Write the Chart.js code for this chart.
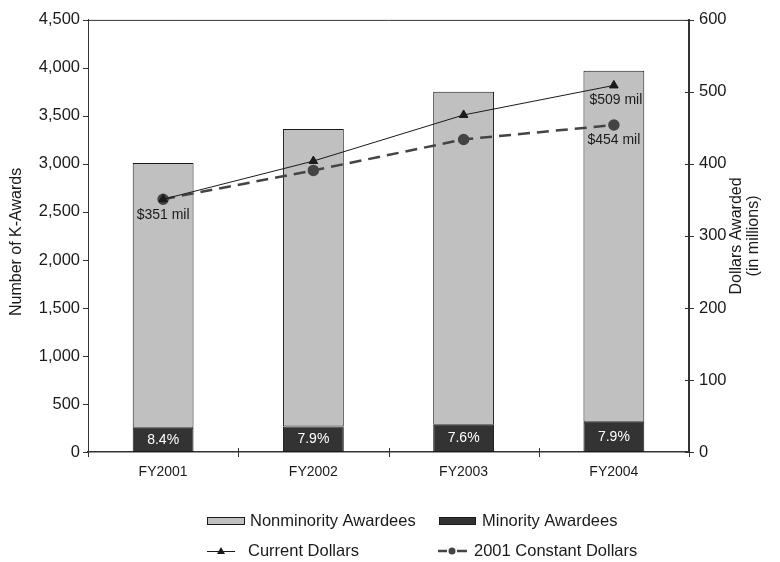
<!DOCTYPE html>
<html>
<head>
<meta charset="utf-8">
<script src="https://cdn.jsdelivr.net/npm/chart.js@4/dist/chart.umd.min.js"></script>
<style>
  html, body { margin: 0; padding: 0; background: #fff; }
  #wrap { width: 780px; height: 562px; position: relative; }
</style>
</head>
<body>
<div id="wrap"><canvas id="c" width="780" height="562"></canvas></div>
<script>
// K-Award counts and funding, FY2001-FY2004
const years = ['FY2001', 'FY2002', 'FY2003', 'FY2004'];
const nonminorityAwardees = [2757, 3099, 3467, 3656];
const minorityAwardees = [253, 266, 285, 314];
const minorityShare = ['8.4%', '7.9%', '7.6%', '7.9%'];
const currentDollars = [351, 404, 468, 509];
const constantDollars = [351, 391, 434, 454];
const awardTicks = [0, 500, 1000, 1500, 2000, 2500, 3000, 3500, 4000, 4500];
const dollarTicks = [0, 100, 200, 300, 400, 500, 600];

const FONT = '"Liberation Sans", Arial, Helvetica, sans-serif';
const INK = '#1a1a1a';
const AXIS = '#333333';
const LIGHT = '#c0c0c0';
const DARK = '#333333';
const DASHED = '#444444';

// Frame line, crossing tick marks, axis titles, value labels and legend
const decorations = {
  id: 'decorations',
  afterDraw(chart) {
    const ctx = chart.ctx;
    const a = chart.chartArea;
    const ys = chart.scales.y, y1 = chart.scales.y1;
    ctx.save();

    // top frame line
    ctx.strokeStyle = AXIS;
    ctx.lineWidth = 1;
    ctx.beginPath();
    ctx.moveTo(a.left, a.top + 0.5);
    ctx.lineTo(a.right, a.top + 0.5);
    ctx.stroke();

    // left axis tick marks (outside)
    ctx.beginPath();
    awardTicks.forEach(v => {
      const y = Math.round(ys.getPixelForValue(v)) + 0.5;
      ctx.moveTo(a.left - 5, y); ctx.lineTo(a.left, y);
    });
    // right axis tick marks (crossing)
    dollarTicks.forEach(v => {
      const y = Math.round(y1.getPixelForValue(v)) + 0.5;
      ctx.moveTo(a.right - 4, y); ctx.lineTo(a.right + 5, y);
    });
    // category boundary ticks on x axis (crossing)
    const step = (a.right - a.left) / years.length;
    for (let i = 0; i <= years.length; i++) {
      const x = Math.round(a.left + i * step) + 0.5;
      ctx.moveTo(x, a.bottom - 4); ctx.lineTo(x, a.bottom + 5);
    }
    ctx.stroke();

    // axis titles
    ctx.fillStyle = INK;
    ctx.font = '16px ' + FONT;
    ctx.textAlign = 'center';
    ctx.textBaseline = 'middle';
    ctx.save();
    ctx.translate(17, (a.top + a.bottom) / 2 + 6);
    ctx.rotate(-Math.PI / 2);
    ctx.fillText('Number of K-Awards', 0, 0);
    ctx.restore();
    ctx.save();
    ctx.translate(745, (a.top + a.bottom) / 2);
    ctx.rotate(-Math.PI / 2);
    ctx.fillText('Dollars Awarded', 0, -8);
    ctx.fillText('(in millions)', 0, 9);
    ctx.restore();

    // minority share inside the dark bars
    const barMeta = chart.getDatasetMeta(2);
    ctx.fillStyle = '#ffffff';
    ctx.font = '14px ' + FONT;
    barMeta.data.forEach((bar, i) => {
      ctx.fillText(minorityShare[i], bar.x, (bar.y + bar.base) / 2);
    });

    // dollar labels under selected points
    ctx.fillStyle = INK;
    const curMeta = chart.getDatasetMeta(0);
    const conMeta = chart.getDatasetMeta(1);
    const money = v => '$' + v + ' mil';
    const p0 = curMeta.data[0];
    ctx.fillText(money(currentDollars[0]), p0.x, p0.y + 16);
    const p3 = curMeta.data[3];
    ctx.fillText(money(currentDollars[3]), p3.x + 2, p3.y + 15);
    const q3 = conMeta.data[3];
    ctx.fillText(money(constantDollars[3]), q3.x, q3.y + 15);

    // legend
    ctx.font = '16.5px ' + FONT;
    ctx.textAlign = 'left';
    ctx.textBaseline = 'middle';
    const r1 = 521, r2 = 551;
    ctx.lineWidth = 1;
    ctx.strokeStyle = INK;
    ctx.fillStyle = LIGHT;
    ctx.fillRect(207.5, r1 - 3.5, 37, 7);
    ctx.strokeRect(207.5, r1 - 3.5, 37, 7);
    ctx.fillStyle = DARK;
    ctx.fillRect(439.5, r1 - 3.5, 36, 7);
    ctx.strokeRect(439.5, r1 - 3.5, 36, 7);
    ctx.fillStyle = INK;
    ctx.fillText('Nonminority Awardees', 250, r1);
    ctx.fillText('Minority Awardees', 482, r1);

    // current dollars sample
    ctx.strokeStyle = INK;
    ctx.lineWidth = 1;
    ctx.beginPath();
    ctx.moveTo(207, r2 + 0.5); ctx.lineTo(235, r2 + 0.5);
    ctx.stroke();
    ctx.beginPath();
    ctx.moveTo(221, r2 - 4); ctx.lineTo(225, r2 + 3); ctx.lineTo(217, r2 + 3);
    ctx.closePath();
    ctx.fill();
    ctx.fillText('Current Dollars', 248, r2);

    // constant dollars sample
    ctx.strokeStyle = DASHED;
    ctx.fillStyle = DASHED;
    ctx.lineWidth = 2.5;
    ctx.beginPath();
    ctx.moveTo(438, r2); ctx.lineTo(447, r2);
    ctx.moveTo(457, r2); ctx.lineTo(467, r2);
    ctx.stroke();
    ctx.beginPath();
    ctx.arc(452, r2, 3.5, 0, Math.PI * 2);
    ctx.fill();
    ctx.fillStyle = INK;
    ctx.fillText('2001 Constant Dollars', 474, r2);

    ctx.restore();
  }
};

new Chart(document.getElementById('c'), {
  data: {
    labels: years,
    datasets: [
      {
        type: 'line', label: 'Current Dollars', data: currentDollars, yAxisID: 'y1',
        borderColor: INK, borderWidth: 1, pointStyle: 'triangle', pointRadius: 5,
        pointBackgroundColor: INK, pointBorderColor: INK, order: 0, tension: 0
      },
      {
        type: 'line', label: '2001 Constant Dollars', data: constantDollars, yAxisID: 'y1',
        borderColor: DASHED, borderWidth: 2.5, borderDash: [12, 7], pointStyle: 'circle',
        pointRadius: 4.5, pointBackgroundColor: DASHED, pointBorderColor: DASHED, order: 0, tension: 0
      },
      {
        type: 'bar', label: 'Minority Awardees', data: minorityAwardees, yAxisID: 'y',
        stack: 'awards', backgroundColor: DARK, borderColor: INK, borderWidth: 1,
        borderSkipped: false, order: 1
      },
      {
        type: 'bar', label: 'Nonminority Awardees', data: nonminorityAwardees, yAxisID: 'y',
        stack: 'awards', backgroundColor: LIGHT, borderColor: INK, borderWidth: 1,
        borderSkipped: false, order: 1
      }
    ]
  },
  options: {
    responsive: false,
    animation: false,
    devicePixelRatio: 1,
    layout: { padding: { top: 15, left: 0, right: 0, bottom: 0 } },
    datasets: { bar: { barPercentage: 0.405, categoryPercentage: 1 } },
    plugins: { legend: { display: false }, tooltip: { enabled: false } },
    scales: {
      x: {
        stacked: true,
        grid: { display: false, drawTicks: false },
        border: { display: true, color: AXIS, width: 1.5 },
        ticks: { color: INK, font: { family: FONT, size: 14 }, padding: 12 },
        afterFit: s => { s.height = 110; }
      },
      y: {
        position: 'left', stacked: true, min: 0, max: 4500,
        grid: { display: false, drawTicks: false },
        border: { display: true, color: AXIS, width: 1 },
        afterBuildTicks: s => { s.ticks = awardTicks.map(v => ({ value: v })); },
        ticks: {
          color: INK, font: { family: FONT, size: 16.5 }, padding: 8,
          callback: v => v.toLocaleString('en-US')
        },
        afterFit: s => { s.width = 88; }
      },
      y1: {
        position: 'right', stacked: false, min: 0, max: 600,
        grid: { display: false, drawTicks: false },
        border: { display: true, color: AXIS, width: 2 },
        afterBuildTicks: s => { s.ticks = dollarTicks.map(v => ({ value: v })); },
        ticks: { color: INK, font: { family: FONT, size: 16.5 }, padding: 10 },
        afterFit: s => { s.width = 91; }
      }
    }
  },
  plugins: [decorations]
});
</script>
</body>
</html>
